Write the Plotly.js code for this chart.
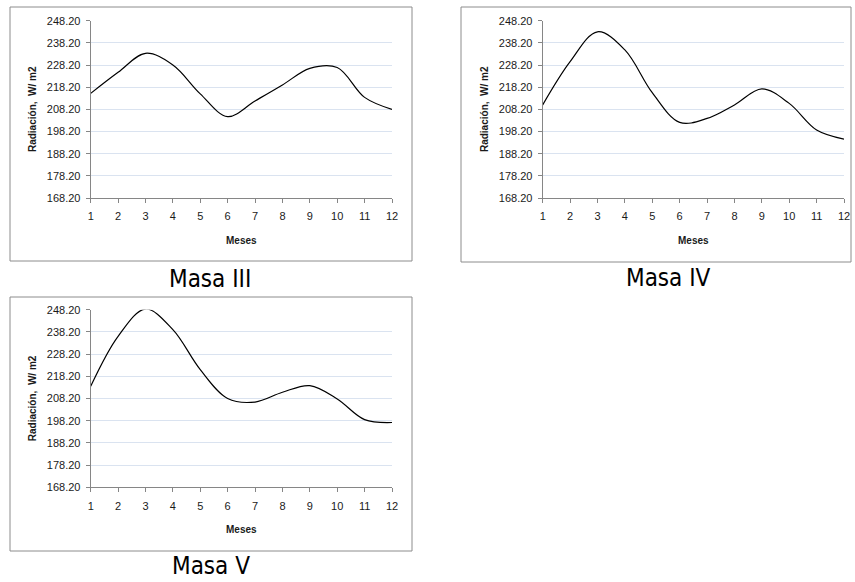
<!DOCTYPE html>
<html>
<head>
<meta charset="utf-8">
<script src="https://cdn.plot.ly/plotly-3.0.1.min.js"></script>
<style>
  html, body { margin: 0; padding: 0; background: #ffffff; }
  #chart { width: 855px; height: 582px; }
</style>
</head>
<body>
<div id="chart"></div>
<script>
// Monthly radiation per mass (W/m2)
const months = [1, 2, 3, 4, 5, 6, 7, 8, 9, 10, 11, 12];
const masaIII = [215.4, 224.9, 233.5, 228.2, 215.2, 204.9, 212.0, 219.2, 226.7, 227.1, 213.6, 208.2];
const masaIV  = [210.2, 229.7, 243.2, 235.0, 215.7, 202.3, 204.1, 210.2, 217.4, 210.9, 198.9, 194.8];
const masaV   = [213.7, 236.2, 248.5, 239.2, 221.2, 208.2, 206.6, 211.0, 214.0, 208.0, 198.7, 197.4];
const yTicks  = [168.2, 178.2, 188.2, 198.2, 208.2, 218.2, 228.2, 238.2, 248.2];
const yTickText = ["168.20", "178.20", "188.20", "198.20", "208.20", "218.20", "228.20", "238.20", "248.20"];
const panelNames = ["Masa III", "Masa IV", "Masa V"];
const xTitle = "Meses";
const yTitle = "Radiación,  W/ m2";

const W = 855, H = 582;
const fx = x => x / W;
const fy = y => 1 - y / H;

// plot areas in pixels: [left, right, top, bottom]
const areas = [
  [90.7, 392, 20.7, 198],
  [542.7, 844, 20.7, 198],
  [90.7, 392, 309.7, 487.3]
];
// framing boxes in pixels: [left, right, top, bottom]
const boxes = [
  [10, 412, 7, 261],
  [461, 851, 7, 262],
  [10, 412, 297, 551]
];
// caption centres in pixels
const captions = [[210, 279], [668, 278], [211, 566]];

const series = [masaIII, masaIV, masaV];
const tickFont = { family: "Liberation Sans, Arial, sans-serif", size: 11, color: "#1a1a1a" };
const boldFont = { family: "Liberation Sans, Arial, sans-serif", size: 10, color: "#1a1a1a", weight: "bold" };

const data = [];
const layout = {
  width: W, height: H,
  margin: { l: 0, r: 0, t: 0, b: 0 },
  paper_bgcolor: "#ffffff",
  plot_bgcolor: "#ffffff",
  showlegend: false,
  shapes: [],
  annotations: []
};

series.forEach((vals, i) => {
  const n = i === 0 ? "" : String(i + 1);
  const [l, r, t, b] = areas[i];
  data.push({
    x: months, y: vals,
    xaxis: "x" + n, yaxis: "y" + n,
    type: "scatter", mode: "lines",
    line: { color: "#000000", width: 1.2, shape: "spline", smoothing: 1 },
    cliponaxis: false,
    hoverinfo: "skip"
  });
  layout["xaxis" + n] = {
    domain: [fx(l), fx(r)],
    anchor: "y" + n,
    range: [1, 12],
    tickmode: "array", tickvals: months, ticktext: months.map(String),
    ticks: "outside", ticklen: 4, tickcolor: "#868686", tickwidth: 1,
    ticklabelstandoff: 4,
    showline: true, linecolor: "#868686", linewidth: 1,
    showgrid: false, zeroline: false,
    tickfont: tickFont
  };
  layout["yaxis" + n] = {
    domain: [fy(b), fy(t)],
    anchor: "x" + n,
    range: [168.2, 248.2],
    tickmode: "array", tickvals: yTicks, ticktext: yTickText,
    ticks: "outside", ticklen: 4, tickcolor: "#868686", tickwidth: 1,
    ticklabelstandoff: 3,
    showline: true, linecolor: "#868686", linewidth: 1,
    showgrid: true, gridcolor: "#dae3f0", gridwidth: 1,
    zeroline: false,
    tickfont: tickFont
  };
  const [bl, br, bt, bb] = boxes[i];
  layout.shapes.push({
    type: "rect", xref: "paper", yref: "paper",
    x0: fx(bl), x1: fx(br), y0: fy(bb), y1: fy(bt),
    line: { color: "#8c8c8c", width: 1 }, fillcolor: "rgba(0,0,0,0)", layer: "below"
  });
  layout.annotations.push({
    xref: "paper", yref: "paper",
    x: fx((l + r) / 2), y: fy(b + 42),
    text: xTitle, showarrow: false, font: boldFont,
    xanchor: "center", yanchor: "middle"
  });
  layout.annotations.push({
    xref: "paper", yref: "paper",
    x: fx(l - 58), y: fy((t + b) / 2),
    text: yTitle, showarrow: false, font: boldFont, textangle: -90,
    xanchor: "center", yanchor: "middle"
  });
  layout.annotations.push({
    xref: "paper", yref: "paper",
    x: fx(captions[i][0]), y: fy(captions[i][1]),
    text: panelNames[i], showarrow: false,
    font: { family: "DejaVu Sans Condensed, Liberation Sans Narrow, sans-serif", size: 24, color: "#000000" },
    xanchor: "center", yanchor: "middle"
  });
});

Plotly.newPlot("chart", data, layout, { staticPlot: true, displayModeBar: false });
</script>
</body>
</html>
